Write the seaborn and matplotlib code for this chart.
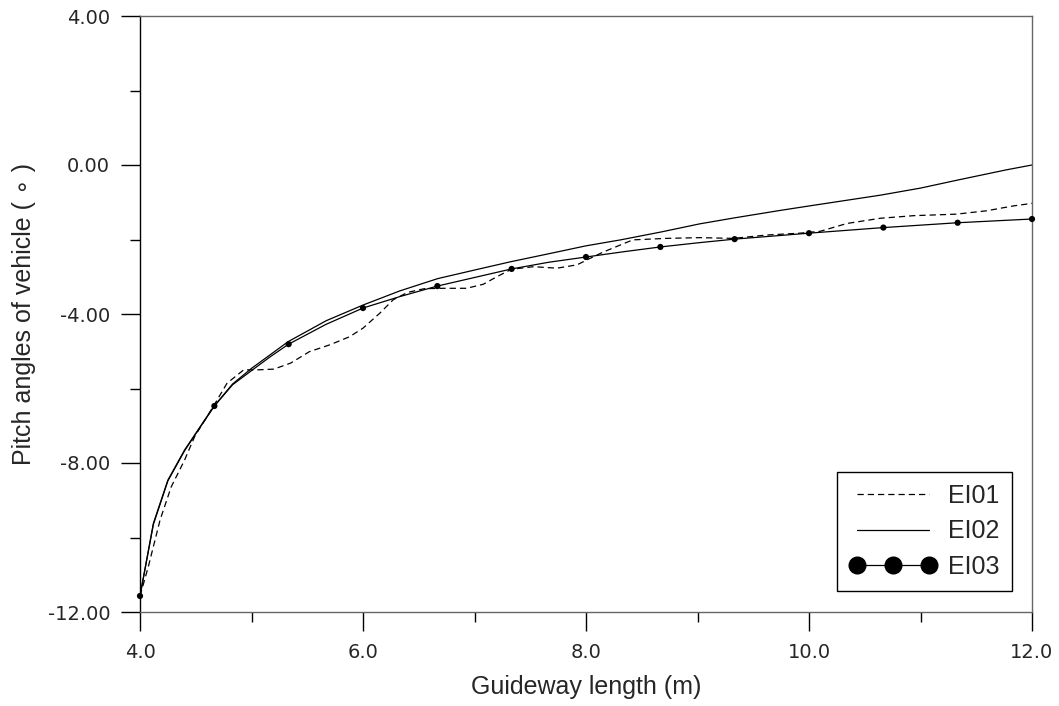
import matplotlib
matplotlib.use("Agg")
import matplotlib.pyplot as plt
from matplotlib.lines import Line2D
from matplotlib.ticker import MultipleLocator, FormatStrFormatter
import numpy as np
import pandas as pd
import seaborn as sns

# Pitch angle of the vehicle along the guideway for three cases
ei01_x = [4.0, 4.075, 4.18, 4.28, 4.40, 4.49, 4.65, 4.78, 4.93, 5.05, 5.20, 5.35,
          5.52, 5.70, 5.88, 6.00, 6.15, 6.27, 6.40, 6.55, 6.72, 6.93, 7.08, 7.20,
          7.33, 7.53, 7.74, 7.92, 8.04, 8.16, 8.42, 8.72, 9.02, 9.32, 9.62, 9.92,
          10.10, 10.34, 10.64, 10.94, 11.32, 11.59, 11.83, 12.0]
ei01_y = [-11.57, -10.78, -9.53, -8.64, -7.92, -7.29, -6.52, -5.86, -5.50, -5.50,
          -5.48, -5.32, -5.01, -4.83, -4.61, -4.38, -3.98, -3.62, -3.42, -3.32,
          -3.31, -3.31, -3.20, -3.00, -2.80, -2.73, -2.77, -2.68, -2.50, -2.33,
          -2.01, -1.97, -1.95, -1.97, -1.88, -1.83, -1.78, -1.57, -1.43, -1.36,
          -1.32, -1.23, -1.10, -1.03]

ei02_x = [4.0, 4.12, 4.25, 4.40, 4.51, 4.66, 4.83, 5.0, 5.33, 5.67, 6.0, 6.33,
          6.67, 7.0, 7.32, 7.67, 8.0, 8.31, 8.67, 9.02, 9.33, 9.74, 10.0, 10.64,
          11.0, 11.34, 11.77, 12.0]
ei02_y = [-11.57, -9.62, -8.46, -7.65, -7.16, -6.49, -5.88, -5.46, -4.74, -4.18,
          -3.76, -3.38, -3.05, -2.82, -2.60, -2.38, -2.17, -2.01, -1.80, -1.58,
          -1.42, -1.22, -1.10, -0.81, -0.62, -0.40, -0.13, 0.0]

ei03_x = [4.0, 4.12, 4.25, 4.40, 4.53, 4.667, 4.83, 5.0, 5.167, 5.333, 5.667,
          6.0, 6.333, 6.667, 7.0, 7.333, 7.667, 8.0, 8.333, 8.667, 9.0, 9.333,
          10.0, 10.667, 11.333, 12.0]
ei03_y = [-11.57, -9.65, -8.48, -7.67, -7.08, -6.47, -5.90, -5.52, -5.15, -4.81,
          -4.28, -3.84, -3.53, -3.25, -3.02, -2.79, -2.61, -2.47, -2.33, -2.20,
          -2.09, -1.99, -1.83, -1.68, -1.55, -1.45]
# EI03 samples that carry a dot marker (every 2/3 m)
ei03_marked = [True, False, False, False, False, True, False, False, False, True,
               False, True, False, True, False, True, False, True, False, True,
               False, True, True, True, True, True]

series_names = ["EI01", "EI02", "EI03"]
x_ticks = [4.0, 6.0, 8.0, 10.0, 12.0]
y_ticks = [-12.0, -8.0, -4.0, 0.0, 4.0]

ei03 = pd.DataFrame({"x": ei03_x, "y": ei03_y, "marked": ei03_marked})

sns.set_style("white")
plt.rcParams["font.family"] = ["Liberation Sans", "DejaVu Sans"]

fig = plt.figure(figsize=(10.59, 7.06), dpi=100)
ax = fig.add_axes([140 / 1059, 1 - 612 / 706, (1032 - 140) / 1059, (612 - 16) / 706])

lw = 0.9
dash = (0, (5, 3.2))
sns.lineplot(x=ei01_x, y=ei01_y, ax=ax, color="black", lw=lw, linestyle=dash,
             sort=False, estimator=None)
sns.lineplot(x=ei02_x, y=ei02_y, ax=ax, color="black", lw=lw,
             sort=False, estimator=None)
sns.lineplot(data=ei03, x="x", y="y", ax=ax, color="black", lw=lw,
             sort=False, estimator=None)
sns.scatterplot(data=ei03[ei03["marked"]], x="x", y="y", ax=ax, color="black",
                s=20, edgecolor="none", zorder=5, clip_on=False)

ax.set_xlim(4, 12)
ax.set_ylim(-12, 4)
ax.set_xticks(x_ticks)
ax.set_yticks(y_ticks)
ax.xaxis.set_minor_locator(MultipleLocator(1.0))
ax.yaxis.set_minor_locator(MultipleLocator(2.0))
ax.xaxis.set_major_formatter(FormatStrFormatter("%.1f"))
ax.yaxis.set_major_formatter(FormatStrFormatter("%.2f"))

for lab in ax.get_xticklabels() + ax.get_yticklabels():
    lab.set_fontfamily("DejaVu Sans")
    lab.set_fontsize(14)

ax.tick_params(which="major", direction="out", length=13.5, width=1, color="black",
               bottom=True, left=True)
ax.tick_params(axis="x", which="major", pad=9)
ax.tick_params(axis="y", which="major", pad=8)
ax.tick_params(which="minor", direction="out", length=7.5, width=1, color="black",
               bottom=True, left=True)

for side in ["top", "right", "bottom"]:
    ax.spines[side].set_color("#666666")
    ax.spines[side].set_linewidth(1.0)
ax.spines["left"].set_color("black")
ax.spines["left"].set_linewidth(1.0)

ax.set_xlabel("Guideway length (m)", fontsize=18, labelpad=9)
ax.set_ylabel("Pitch angles of vehicle ( \u2218 )", fontsize=18, labelpad=8)

handles = [
    Line2D([], [], color="black", lw=lw, linestyle=dash),
    Line2D([], [], color="black", lw=lw),
    Line2D([], [], color="black", lw=lw, marker="o", markersize=12),
]
leg = ax.legend(handles, series_names, loc="lower right",
                bbox_to_anchor=((1012 - 140) / 892, (612 - 591) / 596),
                fontsize=18, handlelength=3.5, handletextpad=0.45, numpoints=3,
                frameon=True, fancybox=False, edgecolor="black", framealpha=1,
                borderpad=0.5, labelspacing=0.45, borderaxespad=0)
leg.get_frame().set_linewidth(1.0)

fig.savefig("out.png", dpi=100)
